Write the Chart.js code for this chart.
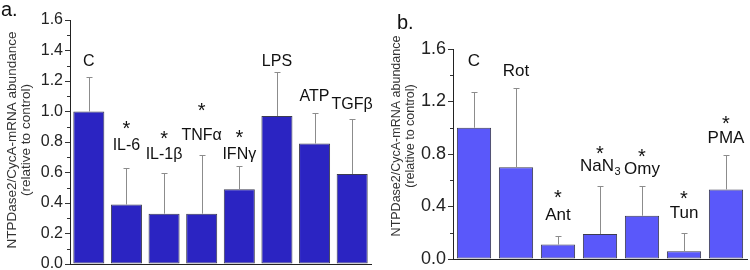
<!DOCTYPE html>
<html>
<head>
<meta charset="utf-8">
<script src="https://cdn.jsdelivr.net/npm/chart.js@4.4.1/dist/chart.umd.min.js"></script>
<style>
  html, body { margin: 0; padding: 0; background: #fff; }
  #wrap { position: relative; width: 750px; height: 270px; overflow: hidden; }
  .panel { position: absolute; top: 0; width: 375px; height: 270px; }
  #panelA { left: 0; }
  #panelB { left: 375px; }
</style>
</head>
<body>
<div id="wrap">
  <div class="panel" id="panelA"><canvas id="chartA" width="375" height="270"></canvas></div>
  <div class="panel" id="panelB"><canvas id="chartB" width="375" height="270"></canvas></div>
</div>
<script>
// ---- panel a: cytokines ----
const categoriesA = ['C', 'IL-6', 'IL-1β', 'TNFα', 'IFNγ', 'LPS', 'ATP', 'TGFβ'];
const meansA = [1.00, 0.39, 0.33, 0.33, 0.49, 0.97, 0.79, 0.59];
const errorTopsA = [1.225, 0.63, 0.60, 0.715, 0.64, 1.26, 0.99, 0.95];
const labelAtA = [1.33, 0.775, 0.72, 0.845, 0.715, 1.33, 1.10, 1.045];
const starAtA = [null, 0.925, 0.855, 1.04, 0.86, null, null, null];
const ticksA = [0.0, 0.2, 0.4, 0.6, 0.8, 1.0, 1.2, 1.4, 1.6];

// ---- panel b: inhibitors ----
const categoriesB = ['C', 'Rot', 'Ant', 'NaN₃', 'Omy', 'Tun', 'PMA'];
const meansB = [1.00, 0.70, 0.11, 0.19, 0.33, 0.06, 0.53];
const errorTopsB = [1.27, 1.30, 0.175, 0.555, 0.555, 0.20, 0.79];
const labelAtB = [1.505, 1.43, 0.33, 0.71, 0.685, 0.345, 0.92];
const starAtB = [null, null, 0.51, 0.84, 0.82, 0.50, 1.07];
const ticksB = [0.0, 0.4, 0.8, 1.2, 1.6];

const yTitle = ['NTPDase2/CycA-mRNA abundance', '(relative to control)'];
const FONT = "'Liberation Sans', Arial, sans-serif";

const subDigits = { '₀': '0', '₁': '1', '₂': '2', '₃': '3', '₄': '4' };

function drawLabel(ctx, text, x, y, size) {
    const last = text.slice(-1);
    ctx.textBaseline = 'middle';
    if (subDigits[last]) {
        const base = text.slice(0, -1);
        const sub = subDigits[last];
        ctx.font = size + 'px ' + FONT;
        const wBase = ctx.measureText(base).width;
        ctx.font = Math.round(size * 0.62) + 'px ' + FONT;
        const wSub = ctx.measureText(sub).width;
        const left = x - (wBase + wSub) / 2;
        ctx.textAlign = 'left';
        ctx.font = size + 'px ' + FONT;
        ctx.fillText(base, left, y);
        ctx.font = Math.round(size * 0.62) + 'px ' + FONT;
        ctx.fillText(sub, left + wBase + 0.5, y + size * 0.38);
    } else {
        ctx.textAlign = 'center';
        ctx.font = size + 'px ' + FONT;
        ctx.fillText(text, x, y);
    }
}

function decorPlugin(opts) {
    return {
        id: 'decor',
        afterDatasetsDraw(chart) {
            const ctx = chart.ctx;
            const y = chart.scales.y;
            const area = chart.chartArea;
            const bars = chart.getDatasetMeta(0).data;
            ctx.save();

            // error bars (upper only)
            ctx.strokeStyle = '#8c8c8c';
            ctx.lineWidth = 1;
            bars.forEach((bar, i) => {
                const x = Math.round(bar.x) + 0.5;
                const top = Math.round(y.getPixelForValue(opts.errorTops[i])) + 0.5;
                ctx.beginPath();
                ctx.moveTo(x, bar.y);
                ctx.lineTo(x, top);
                ctx.moveTo(x - 3, top);
                ctx.lineTo(x + 3, top);
                ctx.stroke();
            });

            // minor ticks between the labelled ones
            ctx.strokeStyle = '#333';
            for (let k = 0; k < opts.ticks.length - 1; k++) {
                const mid = (opts.ticks[k] + opts.ticks[k + 1]) / 2;
                const py = Math.round(y.getPixelForValue(mid)) + 0.5;
                ctx.beginPath();
                ctx.moveTo(area.left - 3, py);
                ctx.lineTo(area.left, py);
                ctx.stroke();
            }

            // category names and significance stars
            ctx.fillStyle = '#111';
            bars.forEach((bar, i) => {
                drawLabel(ctx, opts.categories[i], bar.x, y.getPixelForValue(opts.labelAt[i]), opts.labelSize);
                if (opts.starAt[i] !== null) {
                    const s = opts.starSize;
                    ctx.font = s + 'px ' + FONT;
                    ctx.textAlign = 'center';
                    ctx.textBaseline = 'alphabetic';
                    ctx.fillText('*', bar.x, y.getPixelForValue(opts.starAt[i]) + s * 0.58);
                }
            });

            // rotated y title
            ctx.fillStyle = '#333';
            ctx.font = opts.titleSize + 'px ' + FONT;
            ctx.textAlign = 'center';
            ctx.textBaseline = 'middle';
            yTitle.forEach((line, k) => {
                ctx.save();
                ctx.translate(opts.titleX[k], opts.titleY);
                ctx.rotate(-Math.PI / 2);
                ctx.fillText(line, 0, 0);
                ctx.restore();
            });

            // panel letter
            ctx.fillStyle = '#111';
            ctx.font = '20px ' + FONT;
            ctx.textAlign = 'left';
            ctx.textBaseline = 'middle';
            ctx.fillText(opts.letter, opts.letterX, opts.letterY);

            ctx.restore();
        }
    };
}

function makeChart(id, opts) {
    const ctx = document.getElementById(id).getContext('2d');
    return new Chart(ctx, {
        type: 'bar',
        data: {
            labels: opts.categories,
            datasets: [{
                data: opts.means,
                backgroundColor: opts.color,
                borderColor: '#3c3c50',
                borderWidth: 1,
                borderSkipped: false,
                categoryPercentage: 1,
                barPercentage: opts.barPct
            }]
        },
        options: {
            responsive: false,
            animation: false,
            devicePixelRatio: 1,
            layout: { padding: opts.padding },
            plugins: {
                legend: { display: false },
                tooltip: { enabled: false }
            },
            scales: {
                x: {
                    offset: true,
                    ticks: { display: false },
                    grid: { display: false, drawTicks: false },
                    border: { display: true, color: '#222', width: 1 },
                    afterFit(scale) { scale.height = 0; }
                },
                y: {
                    min: 0,
                    max: 1.6,
                    afterBuildTicks(scale) {
                        scale.ticks = opts.ticks.map(v => ({ value: v }));
                    },
                    ticks: {
                        padding: 2,
                        color: '#222',
                        font: { family: FONT, size: opts.tickSize },
                        callback: v => Number(v).toFixed(1)
                    },
                    grid: {
                        display: true,
                        drawOnChartArea: false,
                        drawTicks: true,
                        tickLength: 5,
                        tickColor: '#333'
                    },
                    border: { display: true, color: '#222', width: 1 },
                    afterFit(scale) {
                        scale.width = opts.axisLeft;
                        scale.paddingTop = 0;
                        scale.paddingBottom = 0;
                    }
                }
            }
        },
        plugins: [decorPlugin(opts)]
    });
}

makeChart('chartA', {
    categories: categoriesA,
    means: meansA,
    errorTops: errorTopsA,
    labelAt: labelAtA,
    starAt: starAtA,
    ticks: ticksA,
    color: '#2b24c2',
    barPct: 0.825,
    axisLeft: 70,
    padding: { left: 0, top: 20, right: 4, bottom: 6 },
    tickSize: 16,
    labelSize: 16,
    starSize: 20,
    titleSize: 13.5,
    titleX: [12, 26],
    titleY: 140,
    letter: 'a.',
    letterX: 1,
    letterY: 10
});

makeChart('chartB', {
    categories: categoriesB,
    means: meansB,
    errorTops: errorTopsB,
    labelAt: labelAtB,
    starAt: starAtB,
    ticks: ticksB,
    color: '#5a58fa',
    barPct: 0.815,
    axisLeft: 78,
    padding: { left: 0, top: 49, right: 3, bottom: 11 },
    tickSize: 18,
    labelSize: 17,
    starSize: 20,
    titleSize: 12.5,
    titleX: [22, 36],
    titleY: 136,
    letter: 'b.',
    letterX: 22,
    letterY: 23
});
</script>
</body>
</html>
